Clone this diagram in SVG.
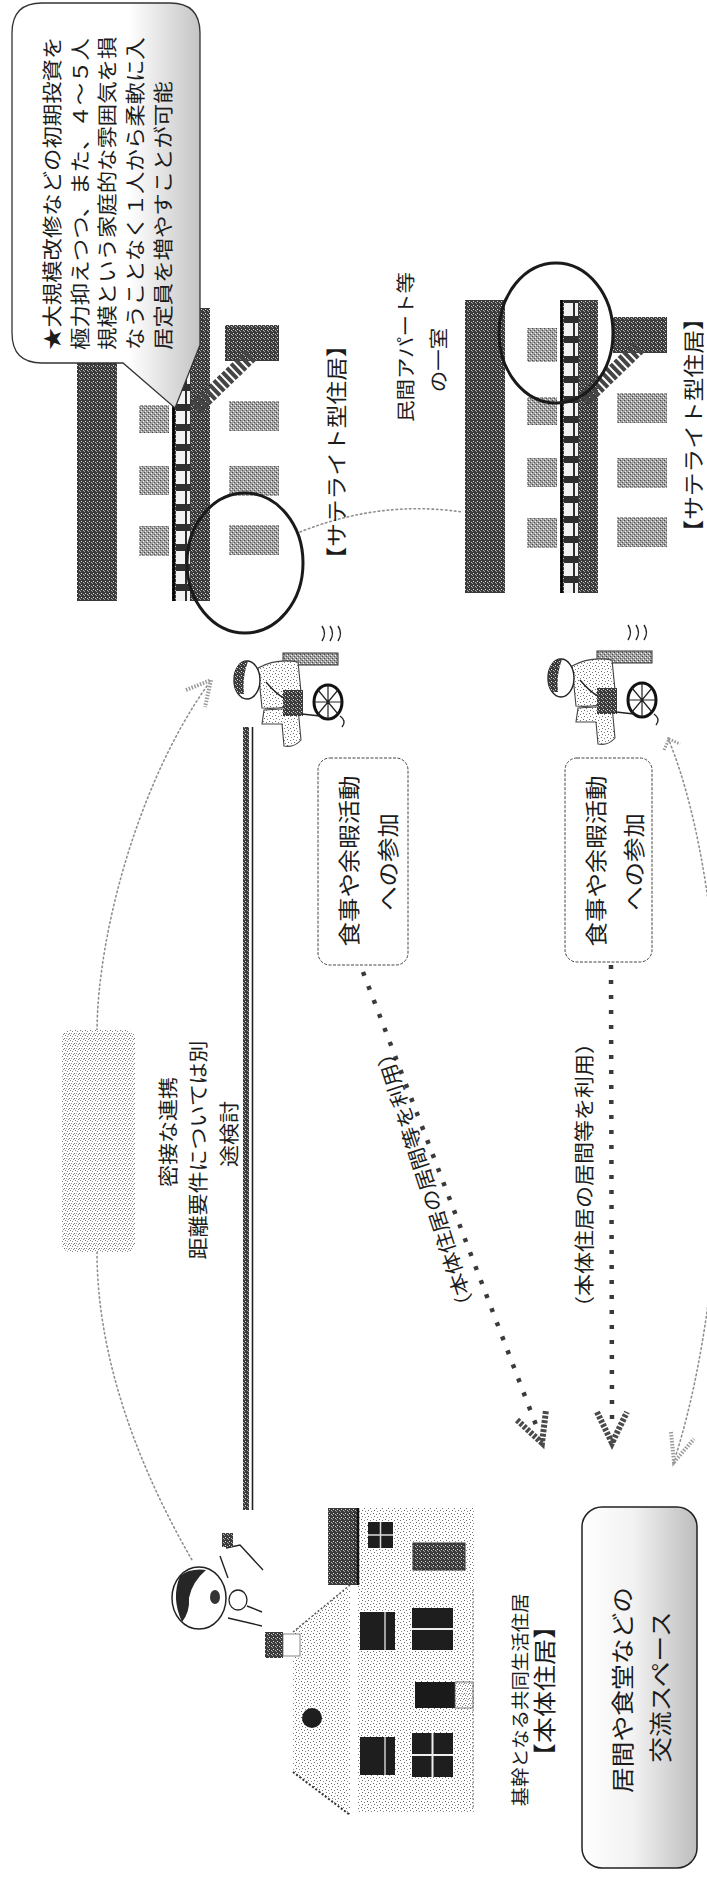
<svg xmlns="http://www.w3.org/2000/svg" width="707" height="1901" viewBox="0 0 707 1901">
<defs>
<style>
.t{font-family:"Noto Sans CJK JP","Noto Sans CJK SC",sans-serif;fill:#1c1c1c;dominant-baseline:central}
.c{text-anchor:middle}
.s{text-anchor:start}
.faint{fill:none;stroke:#8f8f8f;stroke-width:1.6;stroke-dasharray:1.5 3;stroke-linecap:round}
.dots{fill:none;stroke:#3a3a3a;stroke-width:4.5;stroke-dasharray:4 11}
.head{fill:none;stroke:#4a4a4a;stroke-width:6;stroke-dasharray:3 1.5}
.ring{fill:none;stroke:#1a1a1a;stroke-width:3}
.win{fill:url(#pWin)}
.ink{stroke:#222;stroke-width:1.4;fill:none}
</style>
<pattern id="pLight" width="6" height="6" patternUnits="userSpaceOnUse">
  <rect width="6" height="6" fill="#fff"/>
  <rect x="1" y="1" width="1" height="1" fill="#666"/>
  <rect x="4" y="2" width="1" height="1" fill="#777"/>
  <rect x="2" y="4" width="1" height="1" fill="#666"/>
  <rect x="5" y="5" width="1" height="1" fill="#888"/>
</pattern>
<pattern id="pMid" width="5" height="5" patternUnits="userSpaceOnUse">
  <rect width="5" height="5" fill="#fff"/>
  <rect x="0" y="0" width="1" height="1" fill="#777"/>
  <rect x="2" y="1" width="1" height="1" fill="#888"/>
  <rect x="4" y="3" width="1" height="1" fill="#777"/>
  <rect x="1" y="3" width="1" height="1" fill="#999"/>
  <rect x="3" y="4" width="1" height="1" fill="#888"/>
</pattern>
<pattern id="pDark" width="4" height="4" patternUnits="userSpaceOnUse">
  <rect width="4" height="4" fill="#3a3a3a"/>
  <rect x="1" y="1" width="1" height="1" fill="#ddd"/>
  <rect x="3" y="2" width="1" height="1" fill="#bbb"/>
  <rect x="0" y="3" width="1" height="1" fill="#999"/>
</pattern>
<pattern id="pWin" width="4" height="4" patternUnits="userSpaceOnUse">
  <rect width="4" height="4" fill="#a0a0a0"/>
  <rect x="0" y="0" width="1" height="1" fill="#444"/>
  <rect x="2" y="2" width="1" height="1" fill="#555"/>
  <rect x="1" y="3" width="1" height="1" fill="#eee"/>
  <rect x="3" y="1" width="1" height="1" fill="#fff"/>
</pattern>
<pattern id="pRail" width="14" height="20" patternUnits="userSpaceOnUse" y="300">
  <rect width="14" height="20" fill="#2e2e2e"/>
  <rect x="1" y="3" width="12" height="13" fill="#f2f2f2"/>
</pattern>
<linearGradient id="gBubble" x1="0" y1="0" x2="1" y2="0">
  <stop offset="0" stop-color="#fff"/>
  <stop offset="0.62" stop-color="#fff"/>
  <stop offset="1" stop-color="#c4c4c4"/>
</linearGradient>
<linearGradient id="gSpace" x1="0" y1="0" x2="1" y2="0">
  <stop offset="0" stop-color="#fff"/>
  <stop offset="0.45" stop-color="#f2f2f2"/>
  <stop offset="1" stop-color="#bdbdbd"/>
</linearGradient>

<!-- two-storey apartment block with outdoor corridor and stair -->
<g id="aptBlock">
  <rect x="465" y="300" width="40" height="293" fill="url(#pDark)"/>
  <rect x="527" y="328" width="30" height="34" class="win"/>
  <rect x="527" y="397" width="30" height="28" class="win"/>
  <rect x="527" y="458" width="30" height="29" class="win"/>
  <rect x="527" y="518" width="30" height="30" class="win"/>
  <rect x="560" y="300" width="38" height="293" fill="url(#pDark)"/>
  <rect x="564" y="300" width="14" height="293" fill="url(#pRail)"/>
  <line x1="561.5" y1="300" x2="561.5" y2="593" stroke="#000" stroke-width="2.5"/>
  <rect x="617" y="393" width="50" height="30" class="win"/>
  <rect x="617" y="458" width="50" height="30" class="win"/>
  <rect x="617" y="517" width="50" height="30" class="win"/>
  <rect x="613" y="317" width="54" height="36" fill="url(#pDark)"/>
  <line x1="584" y1="400" x2="640" y2="346" stroke="#454545" stroke-width="15" stroke-dasharray="4 2"/>
</g>

<!-- person in a wheelchair, origin at the wheel hub -->
<g id="wheelchairUser">
  <rect x="-45" y="-49" width="55" height="12" fill="url(#pWin)" stroke="#333" stroke-width="1"/>
  <path d="M -70 -34 Q -52 -44 -30 -40 L -26 0 Q -46 8 -66 6 Z" fill="url(#pLight)" stroke="#444" stroke-width="1.1"/>
  <path d="M -64 8 L -30 6 L -27 38 Q -34 46 -44 44 L -46 22 L -66 22 Z" fill="url(#pLight)" stroke="#444" stroke-width="1.1"/>
  <rect x="-45" y="-12" width="20" height="26" fill="url(#pDark)"/>
  <path d="M -62 -20 Q -52 -8 -44 -4" class="ink"/>
  <ellipse cx="-81" cy="-22" rx="13" ry="19" fill="#fff" stroke="#222" stroke-width="1.4"/>
  <path d="M -90 -8 A 13 19 0 0 1 -80 -41 Q -86 -24 -84 -8 Z" fill="url(#pDark)"/>
  <ellipse cx="0" cy="0" rx="14" ry="17" fill="#fff" stroke="#111" stroke-width="3"/>
  <path d="M -14 0 H 14 M 0 -17 V 17 M -10 -12 L 10 12 M -10 12 L 10 -12" stroke="#222" stroke-width="1.2"/>
  <path d="M 12 14 q 7 5 2 11" class="ink"/>
  <path d="M -26 12 L -8 14" class="ink"/>
</g>
</defs>

<rect width="707" height="1901" fill="#fff"/>

<!-- connectors -->
<g id="connectors">
  <rect x="243" y="727" width="6" height="783" fill="url(#pDark)"/>
  <line x1="252.5" y1="727" x2="252.5" y2="1510" stroke="#222" stroke-width="1.6"/>

  <line x1="363" y1="972" x2="536" y2="1425" class="dots"/>
  <polyline points="517,1420 542,1443 546,1410" class="head"/>

  <line x1="611" y1="965" x2="612" y2="1420" class="dots"/>
  <polyline points="597,1412 612,1443 627,1412" class="head"/>

  <path d="M 207 686 C 140 780 98 930 97 1030" class="faint"/>
  <path d="M 97 1252 C 97 1360 140 1470 192 1560" class="faint"/>
  <polyline points="186,690 211,680 205,707" fill="none" stroke="#9a9a9a" stroke-width="4" stroke-dasharray="1.5 1.5"/>

  <path d="M 668 738 C 735 900 740 1250 676 1455" class="faint"/>
  <polyline points="671,1432 674,1462 694,1439" fill="none" stroke="#9a9a9a" stroke-width="4" stroke-dasharray="1.5 1.5"/>
  <polyline points="664,750 669,739 680,744" fill="none" stroke="#9a9a9a" stroke-width="3" stroke-dasharray="1.5 1.5"/>

  <path d="M 300 532 Q 380 500 462 512" class="faint"/>
</g>

<!-- satellite dwelling 1 -->
<g id="satellite1">
  <use href="#aptBlock" transform="translate(-388,8)"/>
  <ellipse cx="245" cy="563" rx="58" ry="70" class="ring"/>
  <text class="t c" font-size="21" transform="translate(335,452) rotate(-90) scale(1.13,1)">【サテライト型住居】</text>
</g>

<!-- satellite dwelling 2 -->
<g id="satellite2">
  <use href="#aptBlock"/>
  <ellipse cx="556" cy="333" rx="57" ry="70" class="ring"/>
  <text class="t c" font-size="21" transform="translate(692,425) rotate(-90) scale(1.13,1)">【サテライト型住居】</text>
  <text class="t c" font-size="19" transform="translate(405,347) rotate(-90) scale(1.13,1)">民間アパート等</text>
  <text class="t c" font-size="19" transform="translate(438,360) rotate(-90) scale(1.13,1)">の一室</text>
</g>

<!-- callout -->
<g id="callout">
  <path d="M 42 3 H 170 Q 200 3 200 33 V 345 L 175 408 L 123 363 H 42 Q 12 363 12 333 V 33 Q 12 3 42 3 Z" fill="url(#gBubble)" stroke="#333" stroke-width="1.3"/>
  <g class="t s" font-size="20">
    <text transform="translate(51,350) rotate(-90) scale(1.12,1)">★大規模改修などの初期投資を</text>
    <text transform="translate(79,350) rotate(-90) scale(1.12,1)">極力抑えつつ、また、４～５人</text>
    <text transform="translate(106,350) rotate(-90) scale(1.12,1)">規模という家庭的な雰囲気を損</text>
    <text transform="translate(134,350) rotate(-90) scale(1.12,1)">なうことなく１人から柔軟に入</text>
    <text transform="translate(162,350) rotate(-90) scale(1.12,1)">居定員を増やすことが可能</text>
  </g>
</g>

<!-- residents -->
<g id="resident1">
  <use href="#wheelchairUser" transform="translate(328,702)"/>
  <path d="M 322 626 q 5 7.5 0 15 M 330 626 q 5 7.5 0 15 M 338 626 q 5 7.5 0 15" class="ink"/>
</g>
<g id="resident2">
  <use href="#wheelchairUser" transform="translate(642,700)"/>
  <path d="M 628 625 q 5 7.5 0 15 M 636 625 q 5 7.5 0 15 M 644 625 q 5 7.5 0 15" class="ink"/>
</g>

<!-- activity boxes -->
<g id="activity1">
  <rect x="318" y="758" width="90" height="207" rx="12" fill="#fff" stroke="#444" stroke-width="1" stroke-dasharray="3 1.5"/>
  <text class="t c" font-size="22" transform="translate(348,861) rotate(-90) scale(1.11,1)">食事や余暇活動</text>
  <text class="t c" font-size="22" transform="translate(387,862) rotate(-90) scale(1.11,1)">への参加</text>
</g>
<g id="activity2">
  <rect x="565" y="758" width="87" height="204" rx="12" fill="#fff" stroke="#444" stroke-width="1" stroke-dasharray="3 1.5"/>
  <text class="t c" font-size="22" transform="translate(595,861) rotate(-90) scale(1.11,1)">食事や余暇活動</text>
  <text class="t c" font-size="22" transform="translate(633,862) rotate(-90) scale(1.11,1)">への参加</text>
</g>

<!-- labels on the arrows -->
<g id="useLabel1">
  <text class="t c" font-size="20" transform="translate(424,1180) rotate(-108) scale(1.1,1)">（本体住居の居間等を利用）</text>
</g>
<g id="useLabel2">
  <text class="t c" font-size="20" transform="translate(583,1175) rotate(-90) scale(1.1,1)">（本体住居の居間等を利用）</text>
</g>

<!-- cooperation note -->
<g id="cooperation">
  <rect x="62" y="1030" width="73" height="222" rx="8" fill="url(#pMid)"/>
  <text class="t c" font-size="20" transform="translate(167,1132) rotate(-90) scale(1.1,1)">密接な連携</text>
  <text class="t c" font-size="20" transform="translate(197,1150) rotate(-90) scale(1.1,1)">距離要件については別</text>
  <text class="t c" font-size="20" transform="translate(228,1134) rotate(-90) scale(1.1,1)">途検討</text>
</g>

<!-- staff member waving -->
<g id="staff">
  <path d="M 226 1548 L 240 1545 L 263 1570" class="ink"/>
  <path d="M 220 1556 L 228 1578" class="ink"/>
  <rect x="222" y="1533" width="11" height="14" fill="url(#pDark)"/>
  <ellipse cx="199" cy="1598" rx="27" ry="31" fill="#fff" stroke="#222" stroke-width="1.5"/>
  <path d="M 180 1576 Q 171 1598 182 1622 Q 190 1612 189 1598 Q 192 1582 206 1570 Q 190 1568 180 1576 Z" fill="#262626"/>
  <ellipse cx="215" cy="1597" rx="5" ry="7" fill="#333"/>
  <ellipse cx="238" cy="1600" rx="9" ry="10" fill="#fff" stroke="#222" stroke-width="1.3"/>
  <path d="M 228 1618 L 262 1626 M 247 1606 L 262 1612" class="ink"/>
</g>

<!-- main house -->
<g id="mainHouse">
  <rect x="358" y="1508" width="117" height="305" fill="url(#pLight)"/>
  <line x1="473" y1="1590" x2="473" y2="1810" stroke="#777" stroke-width="1.2" stroke-dasharray="1.5 2.5"/>
  <rect x="328" y="1508" width="30" height="77" fill="url(#pDark)"/>
  <line x1="358" y1="1508" x2="358" y2="1585" stroke="#111" stroke-width="2.5"/>
  <polygon points="350,1585 293,1632 293,1772 350,1815" fill="url(#pLight)"/>
  <polyline points="293,1772 350,1815" fill="none" stroke="#333" stroke-width="2" stroke-dasharray="2 2"/>
  <polyline points="293,1632 350,1585" fill="none" stroke="#555" stroke-width="1.5" stroke-dasharray="2 2"/>
  <rect x="265" y="1632" width="18" height="26" fill="url(#pDark)"/>
  <rect x="283" y="1634" width="17" height="22" fill="#fff" stroke="#666" stroke-width="0.8"/>
  <circle cx="312" cy="1718" r="10" fill="#1e1e1e"/>
  <rect x="368" y="1522" width="25" height="26" fill="#1e1e1e"/>
  <path d="M 380.5 1522 V 1548 M 368 1535 H 393" stroke="#ddd" stroke-width="1.5"/>
  <rect x="413" y="1543" width="52" height="27" fill="url(#pDark)" stroke="#333"/>
  <rect x="360" y="1612" width="35" height="38" fill="#1e1e1e"/>
  <line x1="385" y1="1612" x2="385" y2="1650" stroke="#ccc" stroke-width="1.5"/>
  <rect x="360" y="1737" width="35" height="38" fill="#1e1e1e"/>
  <line x1="385" y1="1737" x2="385" y2="1775" stroke="#ccc" stroke-width="1.5"/>
  <rect x="412" y="1608" width="41" height="42" fill="#1e1e1e"/>
  <line x1="412" y1="1629" x2="453" y2="1629" stroke="#eee" stroke-width="2"/>
  <rect x="415" y="1682" width="40" height="26" fill="#1a1a1a"/>
  <rect x="455" y="1682" width="18" height="26" fill="url(#pMid)" stroke="#555" stroke-width="0.8"/>
  <rect x="412" y="1733" width="41" height="44" fill="#1e1e1e"/>
  <path d="M 432.5 1733 V 1777 M 412 1755 H 453" stroke="#eee" stroke-width="2"/>
  <text class="t c" font-size="18" transform="translate(519,1700) rotate(-90) scale(1.08,1)">基幹となる共同生活住居</text>
  <text class="t c" font-size="23" transform="translate(543,1691) rotate(-90) scale(1.13,1)">【本体住居】</text>
</g>

<!-- shared living space -->
<g id="sharedSpace">
  <rect x="582" y="1507" width="115" height="361" rx="20" fill="url(#gSpace)" stroke="#222" stroke-width="1.5"/>
  <text class="t c" font-size="23" transform="translate(621,1690) rotate(-90) scale(1.12,1)">居間や食堂などの</text>
  <text class="t c" font-size="23" transform="translate(659,1687) rotate(-90) scale(1.12,1)">交流スペース</text>
</g>
</svg>
